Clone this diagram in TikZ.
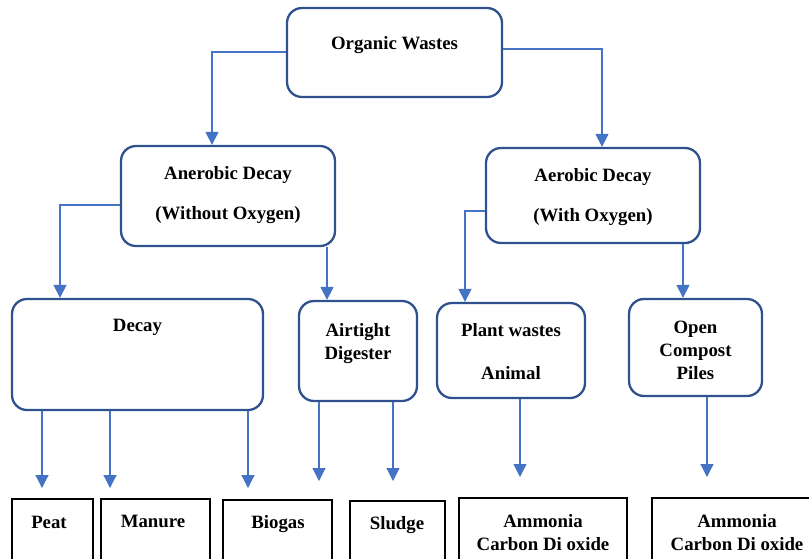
\documentclass[tikz,border=0pt]{standalone}
\usepackage{fontspec}
\setmainfont{Liberation Serif}
\usetikzlibrary{arrows.meta}
\definecolor{boxblue}{HTML}{2F528F}
\definecolor{arrblue}{HTML}{4472C4}
\begin{document}
\begin{tikzpicture}[x=1pt,y=-1pt,
  rbox/.style={draw=boxblue,line width=2.3pt,rounded corners=15pt,rectangle,inner sep=0pt},
  sbox/.style={draw=black,line width=2pt,rectangle,inner sep=0pt},
  lbl/.style={font=\fontsize{18.8}{23}\selectfont\bfseries,align=center,inner sep=0pt},
  arr/.style={draw=arrblue,line width=1.2pt,-{Triangle[width=13pt,length=13pt]}}]
\useasboundingbox (0,0) rectangle (809,558);
% rounded boxes
\node[rbox,minimum width=215pt,minimum height=89pt] (ow) at (394.5,52.5) {};
\node[rbox,minimum width=214pt,minimum height=100pt] (an) at (228,196) {};
\node[rbox,minimum width=214pt,minimum height=95pt] (ae) at (593,195.5) {};
\node[rbox,minimum width=251pt,minimum height=111pt] (dc) at (137.5,354.5) {};
\node[rbox,minimum width=118pt,minimum height=100pt] (at) at (358,351) {};
\node[rbox,minimum width=148pt,minimum height=95pt] (pw) at (511,350.5) {};
\node[rbox,minimum width=133pt,minimum height=97pt] (oc) at (695.5,347.5) {};
% square boxes
\node[sbox,minimum width=81pt,minimum height=70pt] (pt) at (52.5,534) {};
\node[sbox,minimum width=109pt,minimum height=70pt] (mn) at (155.5,534) {};
\node[sbox,minimum width=109pt,minimum height=70pt] (bg) at (277.5,535) {};
\node[sbox,minimum width=95pt,minimum height=70pt] (sl) at (397.5,536) {};
\node[sbox,minimum width=168pt,minimum height=70pt] (a1) at (543,533) {};
\node[sbox,minimum width=160pt,minimum height=70pt] (a2) at (732,533) {};
% texts
\node[lbl] (tow) at (394.5,45.5) {Organic Wastes};
\node[lbl] (tan1) at (228,174.5) {Anerobic Decay};
\node[lbl] (tan2) at (228,215.5) {(Without Oxygen)};
\node[lbl] (tae1) at (593,176.5) {Aerobic Decay};
\node[lbl] (tae2) at (593,217.5) {(With Oxygen)};
\node[lbl] (tdc) at (137.5,327.5) {Decay};
\node[lbl] (tat) at (358,344) {Airtight\\Digester};
\node[lbl] (tpw1) at (511,330.5) {Plant wastes};
\node[lbl] (tpw2) at (511,373.5) {Animal};
\node[lbl] (toc) at (695.5,350) {Open\\Compost\\Piles};
\node[lbl] (tpt) at (49,522) {Peat};
\node[lbl] (tmn) at (153,521) {Manure};
\node[lbl] (tbg) at (278,524) {Biogas};
\node[lbl] (tsl) at (397,525) {Sludge};
\node[lbl] (ta1) at (543,532.5) {Ammonia\\Carbon Di oxide};
\node[lbl] (ta2) at (737,532.5) {Ammonia\\Carbon Di oxide};
% connectors
\draw[arr] ([yshift=0.5pt]ow.west) -| ([xshift=-16pt]an.north);
\draw[arr] ([yshift=3.5pt]ow.east) -| ([xshift=9pt]ae.north);
\draw[arr] ([yshift=-9pt]an.west) -| ([xshift=-77.5pt]dc.north);
\draw[arr] ([xshift=-31pt]at.north |- an.south) -- ([xshift=-31pt]at.north);
\draw[arr] ([yshift=-15.5pt]ae.west) -| ([xshift=-46pt]pw.north);
\draw[arr] ([xshift=-12.5pt]oc.north |- ae.south) -- ([xshift=-12.5pt]oc.north);
\draw[arr,shorten >=10pt] ([xshift=-10.5pt]pt.north |- dc.south) -- ([xshift=-10.5pt]pt.north);
\draw[arr,shorten >=10pt] ([xshift=-45.5pt]mn.north |- dc.south) -- ([xshift=-45.5pt]mn.north);
\draw[arr,shorten >=11pt] ([xshift=-29.5pt]bg.north |- dc.south) -- ([xshift=-29.5pt]bg.north);
\draw[arr,shorten >=18pt] ([xshift=41.5pt]bg.north |- at.south) -- ([xshift=41.5pt]bg.north);
\draw[arr,shorten >=19pt] ([xshift=-4.5pt]sl.north |- at.south) -- ([xshift=-4.5pt]sl.north);
\draw[arr,shorten >=20pt] ([xshift=-23pt]a1.north |- pw.south) -- ([xshift=-23pt]a1.north);
\draw[arr,shorten >=20pt] ([xshift=-25pt]a2.north |- oc.south) -- ([xshift=-25pt]a2.north);
\end{tikzpicture}
\end{document}
